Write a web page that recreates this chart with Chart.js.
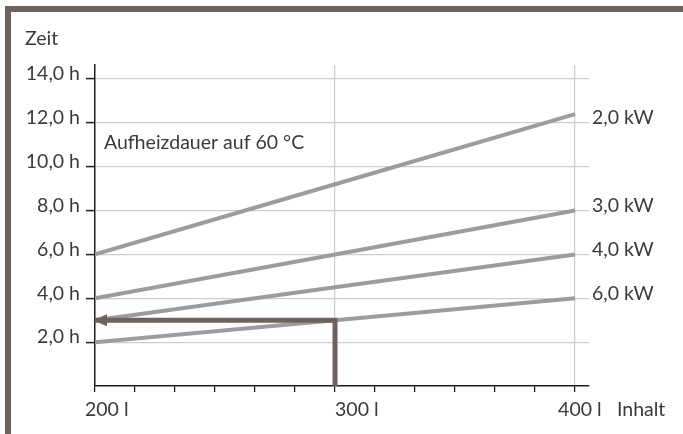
<!DOCTYPE html>
<html lang="de">
<head>
<meta charset="utf-8">
<script src="https://cdn.jsdelivr.net/npm/chart.js@4/dist/chart.umd.min.js"></script>
<style>
  html, body { margin: 0; padding: 0; background: #fff; }
  #wrap { width: 683px; height: 434px; }
</style>
</head>
<body>
<div id="wrap"><canvas id="chart" width="683" height="434"></canvas></div>

<script>
    // Inhalt (Liter) und Aufheizdauer (h) je Heizleistung
    const volumes = [200, 300, 400];
    const hours2kW = [6.0, 9.2, 12.4];
    const hours3kW = [4.0, 6.0, 8.0];
    const hours4kW = [3.0, 4.5, 6.0];
    const hours6kW = [2.0, 3.0, 4.0];
    const powerLabels = ["2,0 kW", "3,0 kW", "4,0 kW", "6,0 kW"];

    // Ablesebeispiel: 300 l -> 3,0 h
    const arrowX = [300, 300, 200];
    const arrowY = [0, 3, 3];

    const yTicks = [0, 2, 4, 6, 8, 10, 12, 14];
    const xLabelValues = [200, 300, 400];
    const xLabels = ["200 l", "300 l", "400 l"];
    const xMinorPerStep = 6;

    const FONT = "Lato, 'Open Sans', sans-serif";
    const FSIZE = 19.5;
    const TEXT = "#3a3a3a";
    const BROWN = "#6f625c";
    const LINE = "#9c9ca0";
    const GRID = "#cdcdcd";

    const xTicks = [];
    for (let i = 0; i <= 2 * xMinorPerStep; i++) xTicks.push(200 + i * 100 / xMinorPerStep);

    const pts = (xs, ys) => xs.map((x, i) => ({x: x, y: ys[i]}));
    const series = [hours2kW, hours3kW, hours4kW, hours6kW];

    const datasets = [{
        data: pts(arrowX, arrowY),
        borderColor: BROWN,
        borderWidth: 5,
        borderCapStyle: "butt",
        borderJoinStyle: "miter",
        order: 0
    }];
    series.forEach((s, i) => datasets.push({
        data: pts(volumes, s),
        borderColor: LINE,
        borderWidth: 4,
        order: 1
    }));

    const decor = {
        id: "decor",
        beforeDraw(chart) {
            const c = chart.ctx;
            c.save();
            c.fillStyle = "#fff";
            c.fillRect(0, 0, chart.width, chart.height);
            c.fillStyle = BROWN;
            c.fillRect(5, 6, chart.width - 5, 6);
            c.fillRect(5, 6, 6, chart.height - 6);
            c.restore();
        },
        afterDatasetsDraw(chart) {
            const c = chart.ctx;
            const xs = chart.scales.x, ys = chart.scales.y;
            c.save();
            // arrow head
            const meta = chart.getDatasetMeta(0);
            const p = meta.data[meta.data.length - 1];
            c.fillStyle = BROWN;
            c.beginPath();
            c.moveTo(p.x - 2, p.y);
            c.lineTo(p.x + 12, p.y - 6);
            c.lineTo(p.x + 12, p.y + 6);
            c.closePath();
            c.fill();

            c.fillStyle = TEXT;
            c.font = FSIZE + "px " + FONT;
            c.textBaseline = "middle";
            c.textAlign = "left";
            c.fillText("Zeit", 25, 39);
            c.fillText("Aufheizdauer auf 60 °C", 104, 143);
            c.fillText("Inhalt", 617, 410);

            // x labels
            const shift = [-10, 0, -17];
            xLabelValues.forEach((v, i) => {
                c.fillText(xLabels[i], xs.getPixelForValue(v) + shift[i], 410);
            });

            // kW labels beside the line ends
            series.forEach((s, i) => {
                const y = ys.getPixelForValue(Math.floor(s[s.length - 1])) - 5;
                c.fillText(powerLabels[i], chart.chartArea.right + 3, y);
            });
            c.restore();
        }
    };

    new Chart("chart", {
        type: "scatter",
        data: {datasets: datasets},
        plugins: [decor],
        options: {
            responsive: false,
            animation: false,
            showLine: true,
            elements: {point: {radius: 0, hoverRadius: 0}, line: {tension: 0}},
            layout: {padding: {left: 0, right: 94, top: 65, bottom: 0}},
            plugins: {legend: {display: false}, tooltip: {enabled: false}},
            scales: {
                x: {
                    type: "linear",
                    min: 200,
                    max: 405.8,
                    afterBuildTicks: axis => { axis.ticks = xTicks.map(v => ({value: v})); },
                    afterFit: axis => { axis.height = 48; },
                    ticks: {display: false},
                    border: {color: "#1e1e1e", width: 1.5},
                    grid: {
                        color: ctx => (ctx.tick && (Math.round(ctx.tick.value) === 300 || Math.round(ctx.tick.value) === 400)) ? GRID : "rgba(0,0,0,0)",
                        tickColor: "#1e1e1e",
                        tickLength: 6,
                        tickWidth: 1.3,
                        lineWidth: 1.2
                    }
                },
                y: {
                    type: "linear",
                    min: 0,
                    max: 14.64,
                    afterBuildTicks: axis => { axis.ticks = yTicks.map(v => ({value: v})); },
                    afterFit: axis => { axis.width = 95; },
                    border: {color: "#1e1e1e", width: 1.5},
                    ticks: {
                        color: TEXT,
                        font: {family: FONT, size: FSIZE},
                        padding: 6,
                        labelOffset: -5,
                        callback: v => v === 0 ? "" : v.toFixed(1).replace(".", ",") + " h"
                    },
                    grid: {
                        color: ctx => (ctx.tick && ctx.tick.value === 0) ? "rgba(0,0,0,0)" : GRID,
                        tickColor: ctx => (ctx.tick && ctx.tick.value === 0) ? "rgba(0,0,0,0)" : "#1e1e1e",
                        tickLength: 9,
                        tickWidth: 1.5,
                        lineWidth: 1.2
                    }
                }
            }
        }
    });
</script>
</body>
</html>
